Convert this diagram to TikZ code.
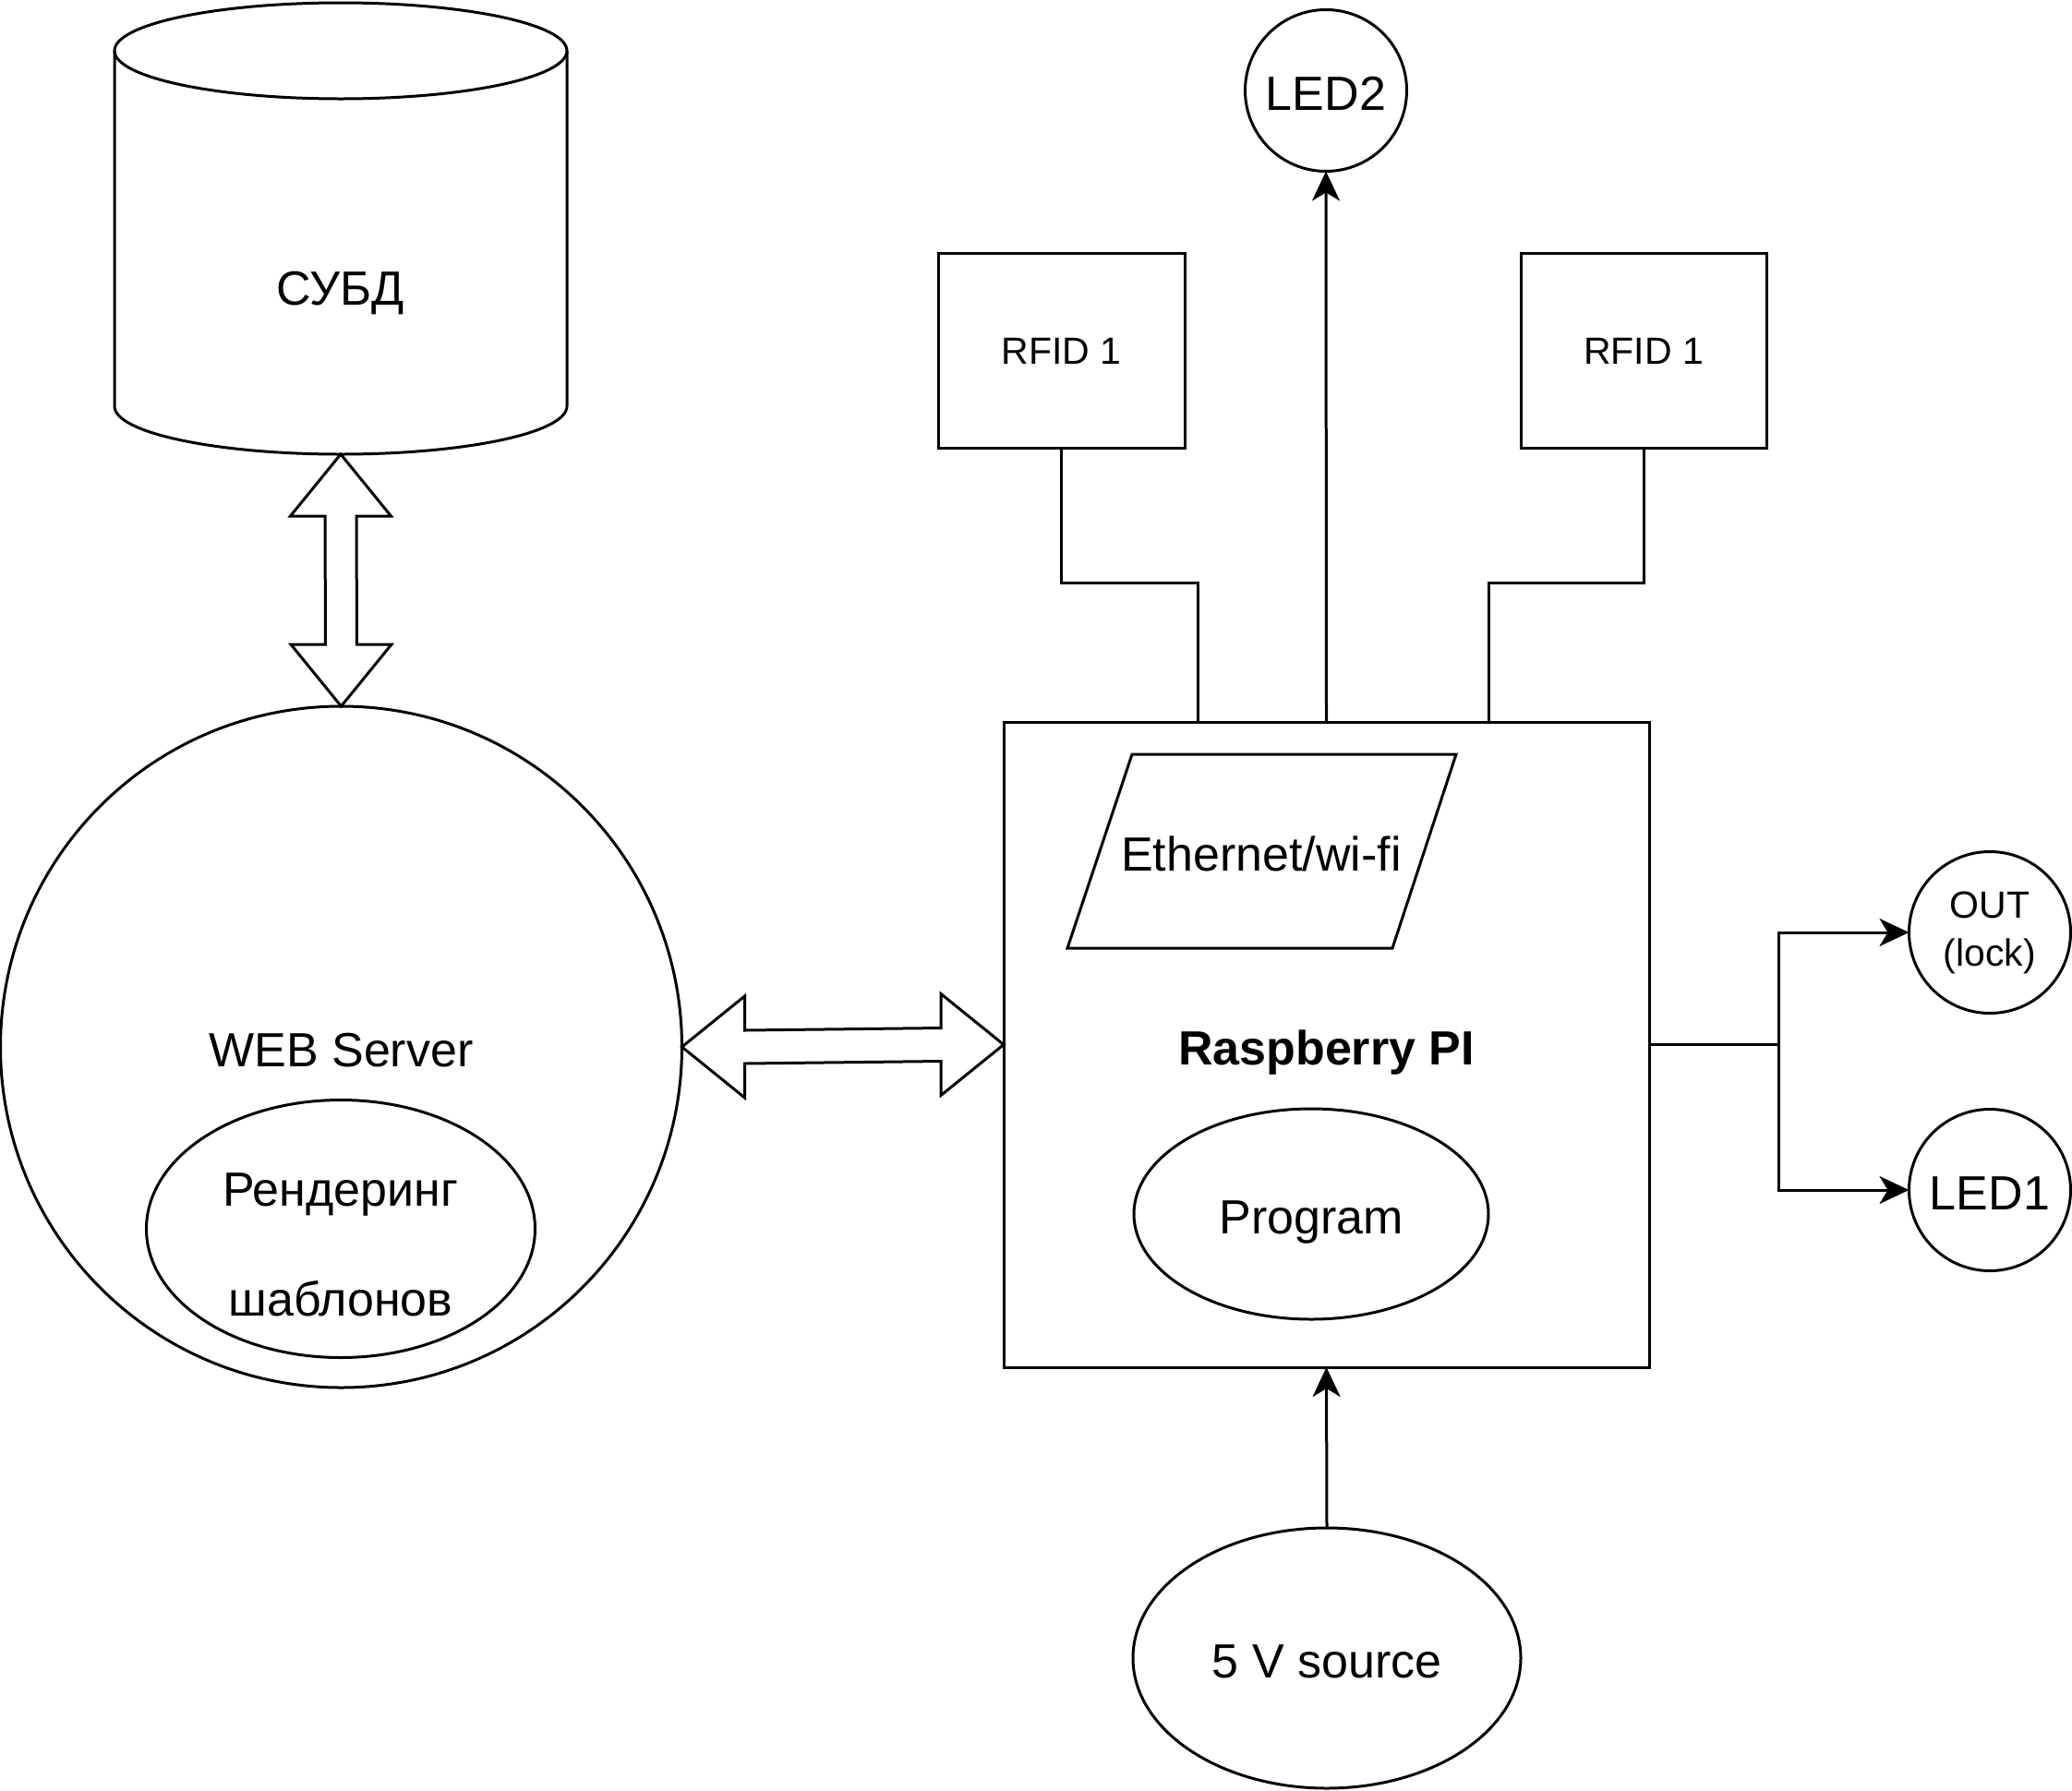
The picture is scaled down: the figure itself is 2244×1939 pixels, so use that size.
\documentclass[tikz,border=0pt]{standalone}
\usepackage{fontspec}
\setmainfont{Liberation Sans}
\usetikzlibrary{arrows.meta,shapes.geometric,calc}
\begin{document}
\begin{tikzpicture}[x=1pt,y=-1pt,
  line width=3pt, line join=miter,
  big/.style={font=\fontsize{52}{62}\selectfont, text height=43pt, text depth=0pt},
  small/.style={font=\fontsize{41}{52}\selectfont},
  box/.style={draw, rectangle, inner sep=0pt, outer sep=0pt},
  circ/.style={draw, circle, inner sep=0pt, outer sep=0pt},
  ell/.style={draw, ellipse, inner sep=0pt, outer sep=0pt},
  plain/.style={inner sep=0pt, outer sep=0pt},
  arr/.style={-{Stealth[length=32pt,width=30pt,inset=9pt]}},
  fat/.style={fill=white, line join=miter}
]
\useasboundingbox (0,0) rectangle (2244,1939);

% --- database cylinder
\draw[fill=white] (124,55) -- (124,440)
   arc[start angle=180, end angle=360, x radius=245pt, y radius=52pt] -- (614,55);
\draw (369,55) ellipse[x radius=245pt, y radius=52pt];
\node[plain, big] (db) at (369,309) {СУБД};
\coordinate (dbbot) at (369,492);

% --- web server
\node[circ, minimum size=738pt, big] (web) at (369.5,1134) {WEB Server};
\node[ell, minimum width=421pt, minimum height=279pt] (render) at (369,1331) {};
\node[plain, font=\fontsize{52}{119}\selectfont, align=center] (rendertxt) at (369,1348) {Рендеринг\\шаблонов};

% --- raspberry
\node[box, minimum width=699pt, minimum height=699pt, big, font=\fontsize{52}{62}\selectfont\bfseries] (rpi) at (1436.5,1131.5) {Raspberry PI};
\draw (1226,817) -- (1577,817) -- (1508,1027) -- (1156,1027) -- cycle;
\node[plain, big] (eth) at (1366,922) {Ethernet/wi-fi};
\node[ell, minimum width=384pt, minimum height=228pt, big] (prog) at (1420,1315) {Program};

% --- peripherals
\node[circ, minimum size=175pt, big] (led2) at (1436,98) {LED2};
\node[box, minimum width=267pt, minimum height=211pt, small, text height=29.5pt, text depth=0pt] (rfidA) at (1149.5,379.5) {RFID 1};
\node[box, minimum width=266pt, minimum height=211pt, small, text height=29.5pt, text depth=0pt] (rfidB) at (1780,379.5) {RFID 1};
\node[circ, minimum size=175pt, small, align=center] (out) at (2155,1010) {OUT\\(lock)};
\node[circ, minimum size=175pt, big] (led1) at (2155,1289) {LED1};
\node[ell, minimum width=420pt, minimum height=282pt, big] (src) at (1437,1796) {5 V source};

\coordinate (rpiA) at (1297,782);
\coordinate (rpiB) at (1612,782);

% --- connectors
\draw[arr] (rpi.north) -- (led2.south);
\draw (rfidA.south) -- ++(0,146) -| (rpiA);
\draw (rfidB.south) -- ++(0,146) -| (rpiB);
\draw[arr] (rpi.east) -- ++(140,0) |- (out.west);
\draw[arr] (rpi.east) -- ++(140,0) |- (led1.west);
\draw[arr] (src.north) -- (rpi.south);

% --- fat double arrows
\draw[fat] (dbbot) -- ++(54.5,67) -- ++(-37.5,0) -- ($(web.north)+(17,-67)$) -- ++(37.5,0)
   -- (web.north) -- ++(-54.5,-67) -- ++(37.5,0) -- ($(dbbot)+(-17,67)$) -- ++(-37.5,0) -- cycle;
\draw[fat] (web.east) -- ++(68,-55) -- ++(0,37) -- ($(rpi.west)+(-68,-18)$) -- ++(0,-37)
   -- (rpi.west) -- ++(-68,55) -- ++(0,-37) -- ($(web.east)+(68,18)$) -- ++(0,37) -- cycle;
\end{tikzpicture}
\end{document}
